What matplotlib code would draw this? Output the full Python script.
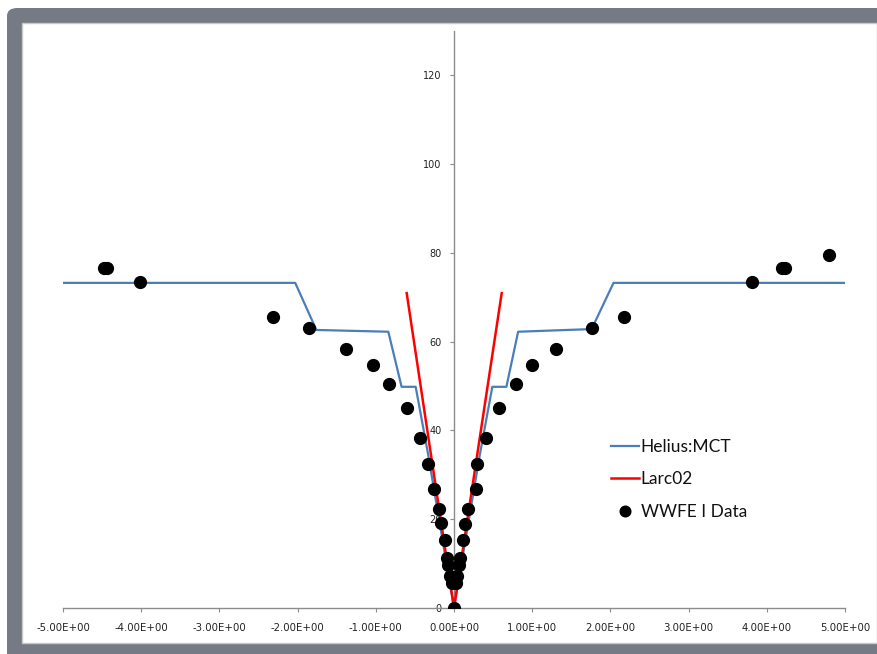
import matplotlib
matplotlib.use("Agg")
import matplotlib.pyplot as plt
from matplotlib.patches import FancyBboxPatch, Rectangle
from matplotlib.ticker import FixedLocator, FuncFormatter

# ---- data ----
helius_x = [-5.0, -2.03, -1.76, -0.84, -0.67, -0.49, -0.33, 0.0, 0.33, 0.49, 0.67, 0.82, 1.76, 2.04, 5.0]
helius_y = [73.2, 73.2, 62.6, 62.2, 49.8, 49.8, 34.5, 0.0, 34.5, 49.8, 49.8, 62.2, 62.8, 73.2, 73.2]

larc_x = [-0.605, 0.0, 0.61]
larc_y = [70.9, 0.0, 70.9]

wwfe_x = [-4.44, -4.47, -4.02, -2.31, -1.85, -1.38, -1.04, -0.83, -0.605,
          -0.435, -0.33, -0.25, -0.19, -0.16, -0.11, -0.085, -0.075, -0.05, -0.03,
          0.0,
          0.026, 0.043, 0.07, 0.077, 0.11, 0.14, 0.175, 0.28, 0.30, 0.41,
          0.575, 0.79, 1.00, 1.31, 1.77, 2.18, 3.81, 4.20, 4.23, 4.80]
wwfe_y = [76.5, 76.6, 73.5, 65.5, 63.0, 58.3, 54.6, 50.5, 45.1,
          38.2, 32.4, 26.7, 22.2, 19.1, 15.2, 11.2, 9.6, 7.1, 5.6,
          0.0,
          5.6, 7.1, 9.6, 11.2, 15.2, 18.9, 22.2, 26.7, 32.4, 38.2,
          45.1, 50.5, 54.6, 58.3, 63.0, 65.5, 73.5, 76.5, 76.6, 79.5]

x_ticks = [-5, -4, -3, -2, -1, 0, 1, 2, 3, 4, 5]
y_ticks = [0, 20, 40, 60, 80, 100, 120]

W, H = 878, 654
fig = plt.figure(figsize=(W / 100, H / 100), dpi=100)

# ---- grey frame (figure coords, y measured from bottom) ----
frame_col = "#767a84"
fig.patches.append(FancyBboxPatch((7 / W, -0.2), 1.2, 0.2 + 1 - 8 / H,
                                  boxstyle="round,pad=0,rounding_size=0.012",
                                  transform=fig.transFigure, facecolor=frame_col,
                                  edgecolor="none", zorder=0))
fig.patches.append(Rectangle((22 / W, 11 / H), (877 - 22) / W, (643 - 23) / H,
                             transform=fig.transFigure, facecolor="white",
                             edgecolor="#c8c8c8", linewidth=1.0, zorder=1))

ax = fig.add_axes([63 / W, (654 - 608) / H, (845 - 63) / W, (608 - 30.6) / H])
ax.set_zorder(2)
ax.patch.set_alpha(0)

ax.plot(helius_x, helius_y, color="#4a7ebb", linewidth=1.6, label="Helius:MCT", zorder=3)
ax.plot(larc_x, larc_y, color="#ff0000", linewidth=1.8, label="Larc02", zorder=4)
ax.plot(wwfe_x, wwfe_y, linestyle="none", marker="o", markersize=8.5,
        color="black", label="WWFE I Data", zorder=5)

ax.set_xlim(-5, 5)
ax.set_ylim(0, 130)

for s in ["top", "right"]:
    ax.spines[s].set_visible(False)
ax.spines["left"].set_position(("data", 0))
ax.spines["bottom"].set_position(("data", 0))
for s in ["left", "bottom"]:
    ax.spines[s].set_color("#8c8c8c")
    ax.spines[s].set_linewidth(1.0)

ax.xaxis.set_major_locator(FixedLocator(x_ticks))
ax.yaxis.set_major_locator(FixedLocator(y_ticks))
ax.xaxis.set_major_formatter(FuncFormatter(lambda v, p: "{:.2E}".format(v)))
ax.yaxis.set_major_formatter(FuncFormatter(lambda v, p: "{:d}".format(int(round(v)))))
ax.tick_params(axis="both", which="major", length=3, width=0.8, color="#8c8c8c",
               labelsize=7, labelcolor="#222222", direction="out")
ax.tick_params(axis="x", pad=8, labelsize=7.3)
ax.tick_params(axis="y", pad=6)
for lab in ax.get_xticklabels() + ax.get_yticklabels():
    lab.set_family("DejaVu Sans")

leg = ax.legend(loc="upper left", bbox_to_anchor=(611 / W, (654 - 439) / H),
                bbox_transform=fig.transFigure, frameon=False, fontsize=12.5,
                handlelength=1.6, handletextpad=0.1, labelspacing=0.95,
                borderaxespad=0, borderpad=0, markerscale=0.9)
for t in leg.get_texts():
    t.set_family("Lato")
    t.set_color("#111111")

fig.savefig("out.png", dpi=100)
